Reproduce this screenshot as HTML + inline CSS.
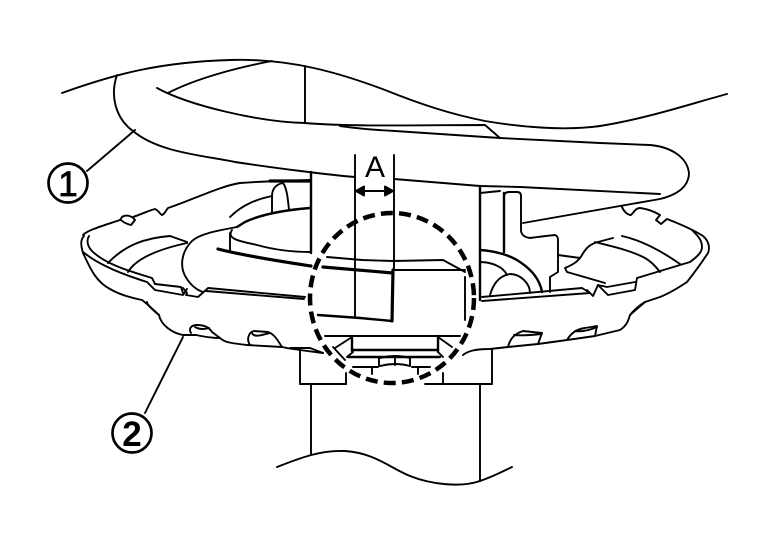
<!DOCTYPE html>
<html><head><meta charset="utf-8"><style>
html,body{margin:0;padding:0;background:#fff}
svg{display:block}
path,line,ellipse,circle{fill:none;stroke:#000;stroke-width:1.9;stroke-linejoin:round;stroke-linecap:round}
.t{stroke-width:3.2}
.m{stroke-width:2.4}
.n{stroke-width:1.5}
text{font-family:"Liberation Sans",sans-serif;fill:#000}
</style></head><body>
<svg width="768" height="544" viewBox="0 0 768 544" xmlns="http://www.w3.org/2000/svg">
<rect width="768" height="544" fill="#fff"/>
<!-- spring coil -->
<path d="M62 93C115 74 160 62 230 60C290 58 340 73 385 90C420 104 450 114 485 121C520 127 565 131 600 126C645 119 690 104 727 94"/>
<path d="M117 75C110 95 115 118 133 131C158 152 200 155 235 162C275 168 330 175 355 177"/>
<path d="M394 179L480 186L520 187L660 194"/>
<path d="M157 88C190 106 260 122 305 123C350 127 430 125 485 125L500 138"/>
<path d="M168 93C195 79 235 68 272 61"/>
<path d="M305 66V123"/>
<path d="M340 126C360 129 375 130 395 131L500 138L600 143L650 145C672 147 688 158 689 174C688 188 676 195 660 199L523 223"/>
<!-- dimension -->
<path d="M355 155V317"/>
<path d="M394 155V270"/>
<path class="t" d="M393 270L392 321"/>
<path class="m" d="M318 315L360 318L392 321"/>
<text x="375" y="177" font-size="30" text-anchor="middle">A</text>
<path d="M362 191H387"/>
<path d="M356 191L364 186.500V195.500Z" style="fill:#000"/>
<path d="M393 191L385 186.500V195.500Z" style="fill:#000"/>
<!-- balloons -->
<circle cx="68" cy="183" r="19.500" style="stroke-width:2.700"/>
<text x="68" y="196" font-size="35" text-anchor="middle" stroke="#000" stroke-width=".8">1</text>
<path d="M87 171L135 130"/>
<circle cx="132" cy="433" r="19.500" style="stroke-width:2.700"/>
<text x="132" y="446" font-size="35" text-anchor="middle" font-weight="700">2</text>
<path d="M145 413L183 337"/>
<!-- spindle -->
<path class="m" d="M311 172V253"/>
<path class="m" d="M480 186V300"/>
<path d="M480 193L500 191"/>
<path class="m" d="M504 193V252"/>
<path d="M504 197Q504 192 509 192H517Q521 192 521 196V231Q522 237 530 238Q545 236 555 235Q558 236 558 240V272L550 277V292"/>
<path d="M558 255L580 258"/>
<!-- top of seat rim -->
<path d="M83 235C88 230 102 226 120 220L122 217C126 214 132 216 135 220L131 225C127 224 124 223 121 220"/>
<path d="M133 217C142 214 150 210 155 209C158 210 160 214 162 215C165 214 166 210 168 208C190 201 220 186 240 183C265 181 285 181 310 180"/>
<path class="t" d="M270 181H310"/>
<!-- lower outline left -->
<path d="M84 236C80 240 81 246 83 253C90 268 96 282 110 289C120 295 132 298 142 300L147 304L159 315C161 325 172 333 183 335L196 335C205 337 213 338 220 338C224 342 229 343 247 345L282 347C290 349 300 350 323 353"/>
<path d="M191 333C188 328 192 325 197 325C204 325 209 327 212 332L220 338"/>
<path d="M195 327C200 330 206 329 209 328"/>
<path d="M250 345C246 339 249 332 254 331L268 332C274 334 277 339 282 347"/>
<path d="M252 333C254 338 262 335 270 333"/>
<path d="M147 302C147 305 155 312 159 315"/>
<path d="M89 236C86 241 88 247 92 251C104 263 125 270 152 278L155 284"/>
<path d="M83 252C100 266 125 275 147 282L155 290L183 295L187 289"/>
<path d="M155 284L181 287L183 293"/>
<path d="M108 263C125 245 145 238 170 236L187 242"/>
<path d="M128 272C135 260 155 250 187 243"/>
<path d="M237 227C215 231 200 234 192 241C181 252 179 268 187 279C191 285 197 290 203 292"/>
<path d="M183 288L187 293L186 295L198 297L207 289"/>
<path d="M208 288L305 297"/>
<path d="M206 291L304 299"/>
<!-- inner seat left -->
<path d="M230 217C243 204 258 199 272 196"/>
<path d="M272 213V196C272 188 277 184 283 183C287 188 288 200 289 210"/>
<path class="m" d="M237 227L245 222C262 214 285 210 310 208"/>
<path d="M230 233V250"/>
<path d="M232 230C225 240 245 242 257 245C275 250 295 252 310 252"/>
<path class="t" d="M218 249C245 256 285 262 311 266"/>
<path class="t" d="M323 267L393 273"/>
<path d="M327 257L362 260L393 261L443 260L465 272"/>
<path d="M395 270H465"/>
<path d="M465 277V320"/>
<!-- right of spindle -->
<path class="m" d="M480 250C495 251 510 255 520 262C532 270 540 280 542 292"/>
<path d="M480 262C490 262 503 266 507 275"/>
<path d="M490 295C493 285 498 276 510 274C520 274 530 283 530 293"/>
<path d="M482 297L582 288L590 293"/>
<path d="M482 301L590 293"/>
<path d="M587 290L593 296L598 285L605 292L608 295L635 290L637 278L690 262C698 256 702 252 702 247C702 240 698 236 692 230"/>
<path d="M598 285L607 287L635 282"/>
<!-- right rim and lower outline -->
<path d="M622 207C624 212 628 215 631 215C634 212 636 208 640 208C648 209 655 212 660 215L656 220L661 224L667 219C680 224 692 229 703 236C709 241 710 248 708 253C702 262 695 272 687 282C675 290 665 295 660 297L645 302L630 315C628 322 626 326 620 330L595 336L567 340L538 344L508 347L490 349C475 349 468 351 463 355"/>
<path d="M508 347C510 339 514 334 523 331L542 333L538 344"/>
<path d="M514 335C523 336 532 335 541 334"/>
<path d="M567 340C571 333 577 329 585 328L597 326L595 336"/>
<path d="M575 331C582 332 590 330 597 327"/>
<path d="M630 315C634 310 640 305 645 302"/>
<path d="M598 242C590 244 586 248 582 255C578 262 572 265 565 268L567 272L605 283"/>
<path d="M595 242C610 246 630 250 645 258C652 262 657 268 660 272"/>
<path d="M598 242L613 238"/>
<path d="M622 236C640 240 660 250 680 264"/>
<!-- lower flange and shaft -->
<path d="M290 348L310 348L323 353"/>
<path d="M300 349V384H346"/>
<path d="M346 373V384"/>
<path d="M443 373V384"/>
<path d="M425 384H492V349"/>
<path d="M311 385V454"/>
<path d="M480 385V481"/>
<path d="M277 467C300 458 320 450 345 451C375 453 390 468 410 476C430 484 460 488 480 481C492 477 502 472 512 467"/>
<!-- nut -->
<path d="M325 336H460"/>
<path class="m" d="M352 336V351M438 336V352"/>
<path class="m" d="M352 350H438"/>
<path d="M335 348L352 337M347 357L353 352M333 347L345 360"/>
<path d="M438 337L452 347M438 352L443 357"/>
<path class="m" d="M348 357H440"/>
<path d="M379 357V366M410 357V366M395 356V365"/>
<path d="M380 358Q395 354 410 358"/>
<path d="M353 367H378M412 367H430"/>
<path d="M380 366Q395 362 410 366"/>
<path d="M372 368V374M418 368V374"/>
<!-- dashed circle -->
<ellipse cx="392" cy="298" rx="82" ry="85" style="stroke-width:4.500;stroke-dasharray:12 6.200;stroke-linecap:butt"/>
</svg>
</body></html>
